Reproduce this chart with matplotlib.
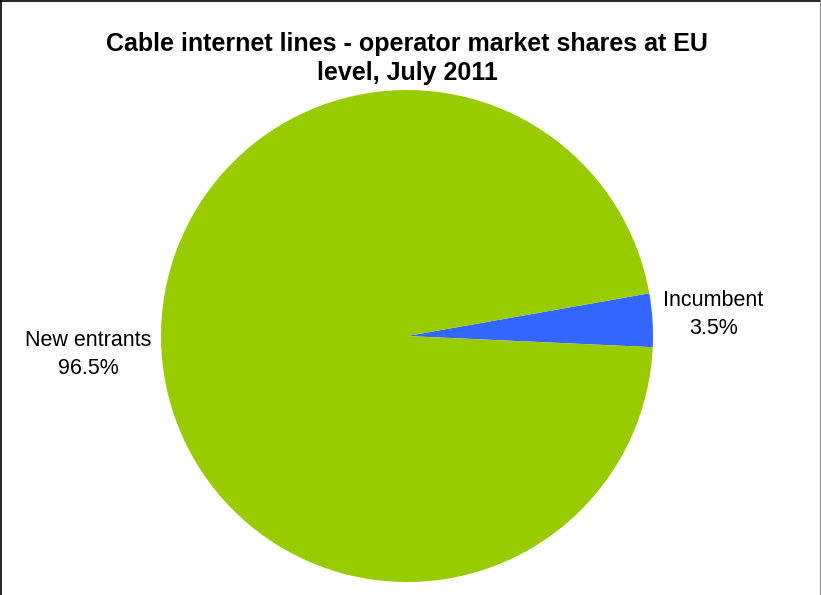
import matplotlib.pyplot as plt
from matplotlib.lines import Line2D

plt.rcParams['font.family'] = ['Liberation Sans', 'DejaVu Sans']

# operator shares of cable internet lines, EU level
operators = ['Incumbent', 'New entrants']
shares = [3.5, 96.5]
colors = ['#3366FF', '#99CC00']

fig = plt.figure(figsize=(8.21, 5.95), dpi=100)
ax = fig.add_axes([0.1961, 0.0218, 0.5993, 0.8269])

wedges, _ = ax.pie(shares, colors=colors, startangle=-2.6, counterclock=True,
                   radius=1.0, wedgeprops={'linewidth': 0})
ax.set_xlim(-1, 1)
ax.set_ylim(-1, 1)
ax.set_aspect('equal')

# slice labels outside the pie
label_pos = {'Incumbent': (1.245, 0.088), 'New entrants': (-1.295, -0.075)}
for name, val in zip(operators, shares):
    x, y = label_pos[name]
    ax.text(x, y, f'{name}\n{val}%', ha='center', va='center',
            fontsize=15.5, linespacing=1.45, clip_on=False)

fig.text(0.4957, 0.902, 'Cable internet lines - operator market shares at EU\nlevel, July 2011',
         ha='center', va='center', fontsize=18, fontweight='bold', linespacing=1.28)

# chart area border
fig.add_artist(Line2D([0.0015, 0.0015], [0, 0.998], color='black', lw=1.2, transform=fig.transFigure))
fig.add_artist(Line2D([0.0015, 0.999], [0.998, 0.998], color='black', lw=1.2, transform=fig.transFigure))
fig.add_artist(Line2D([0.999, 0.999], [0, 0.998], color='#999999', lw=1.0, transform=fig.transFigure))

fig.savefig('out.png', dpi=100)
